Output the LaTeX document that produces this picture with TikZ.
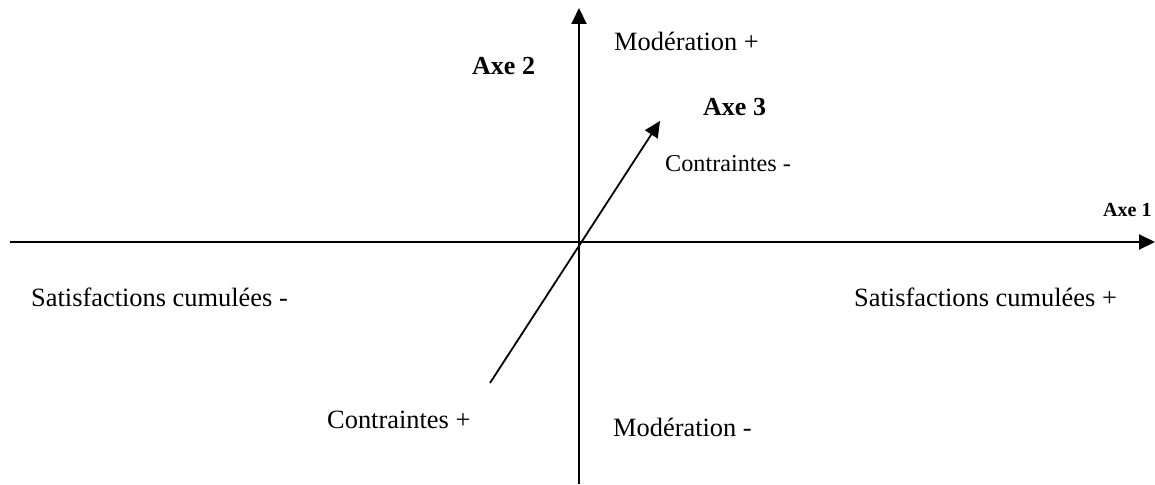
\documentclass[tikz,border=0pt]{standalone}
\usepackage{fontspec}
\setmainfont{Liberation Serif}
\usetikzlibrary{arrows.meta}
\begin{document}
\begin{tikzpicture}[x=1pt,y=-1pt,
  tip/.style={-{Triangle[length=16pt,width=15pt]}},
  axis/.style={line width=2pt,tip},
  lbl/.style={anchor=base west,inner sep=0pt,font=\fontsize{26.4}{30}\selectfont},
  lblc/.style={anchor=base west,inner sep=0pt,font=\fontsize{24.2}{28}\selectfont},
  bold/.style={anchor=base west,inner sep=0pt,font=\fontsize{26}{30}\selectfont\bfseries},
  small/.style={anchor=base west,inner sep=0pt,font=\fontsize{20}{24}\selectfont\bfseries}]
\useasboundingbox (0,0) rectangle (1155,484);
\coordinate (vb) at (579,484);
\coordinate (vt) at (579,8);
\coordinate (hl) at (10,242);
\coordinate (hr) at (1155,242);
\coordinate (db) at (490,383);
\coordinate (dt) at (660,121);
\draw[axis] (vb) -- (vt);
\draw[axis] (hl) -- (hr);
\draw[line width=1.8pt,tip] (db) -- (dt);
\node[lbl] (m1) at (614,51) {Modération +};
\node[bold] (a2) at (472,75) {Axe 2};
\node[bold] (a3) at (703,115) {Axe 3};
\node[lblc] (c1) at (665,171) {Contraintes -};
\node[small] (a1) at (1103,216) {Axe 1};
\node[lbl] (s1) at (31,306) {Satisfactions cumulées -};
\node[lbl] (s2) at (854,306) {Satisfactions cumulées +};
\node[lbl] (c2) at (327,428) {Contraintes +};
\node[lbl] (m2) at (613,436) {Modération -};
\end{tikzpicture}
\end{document}
